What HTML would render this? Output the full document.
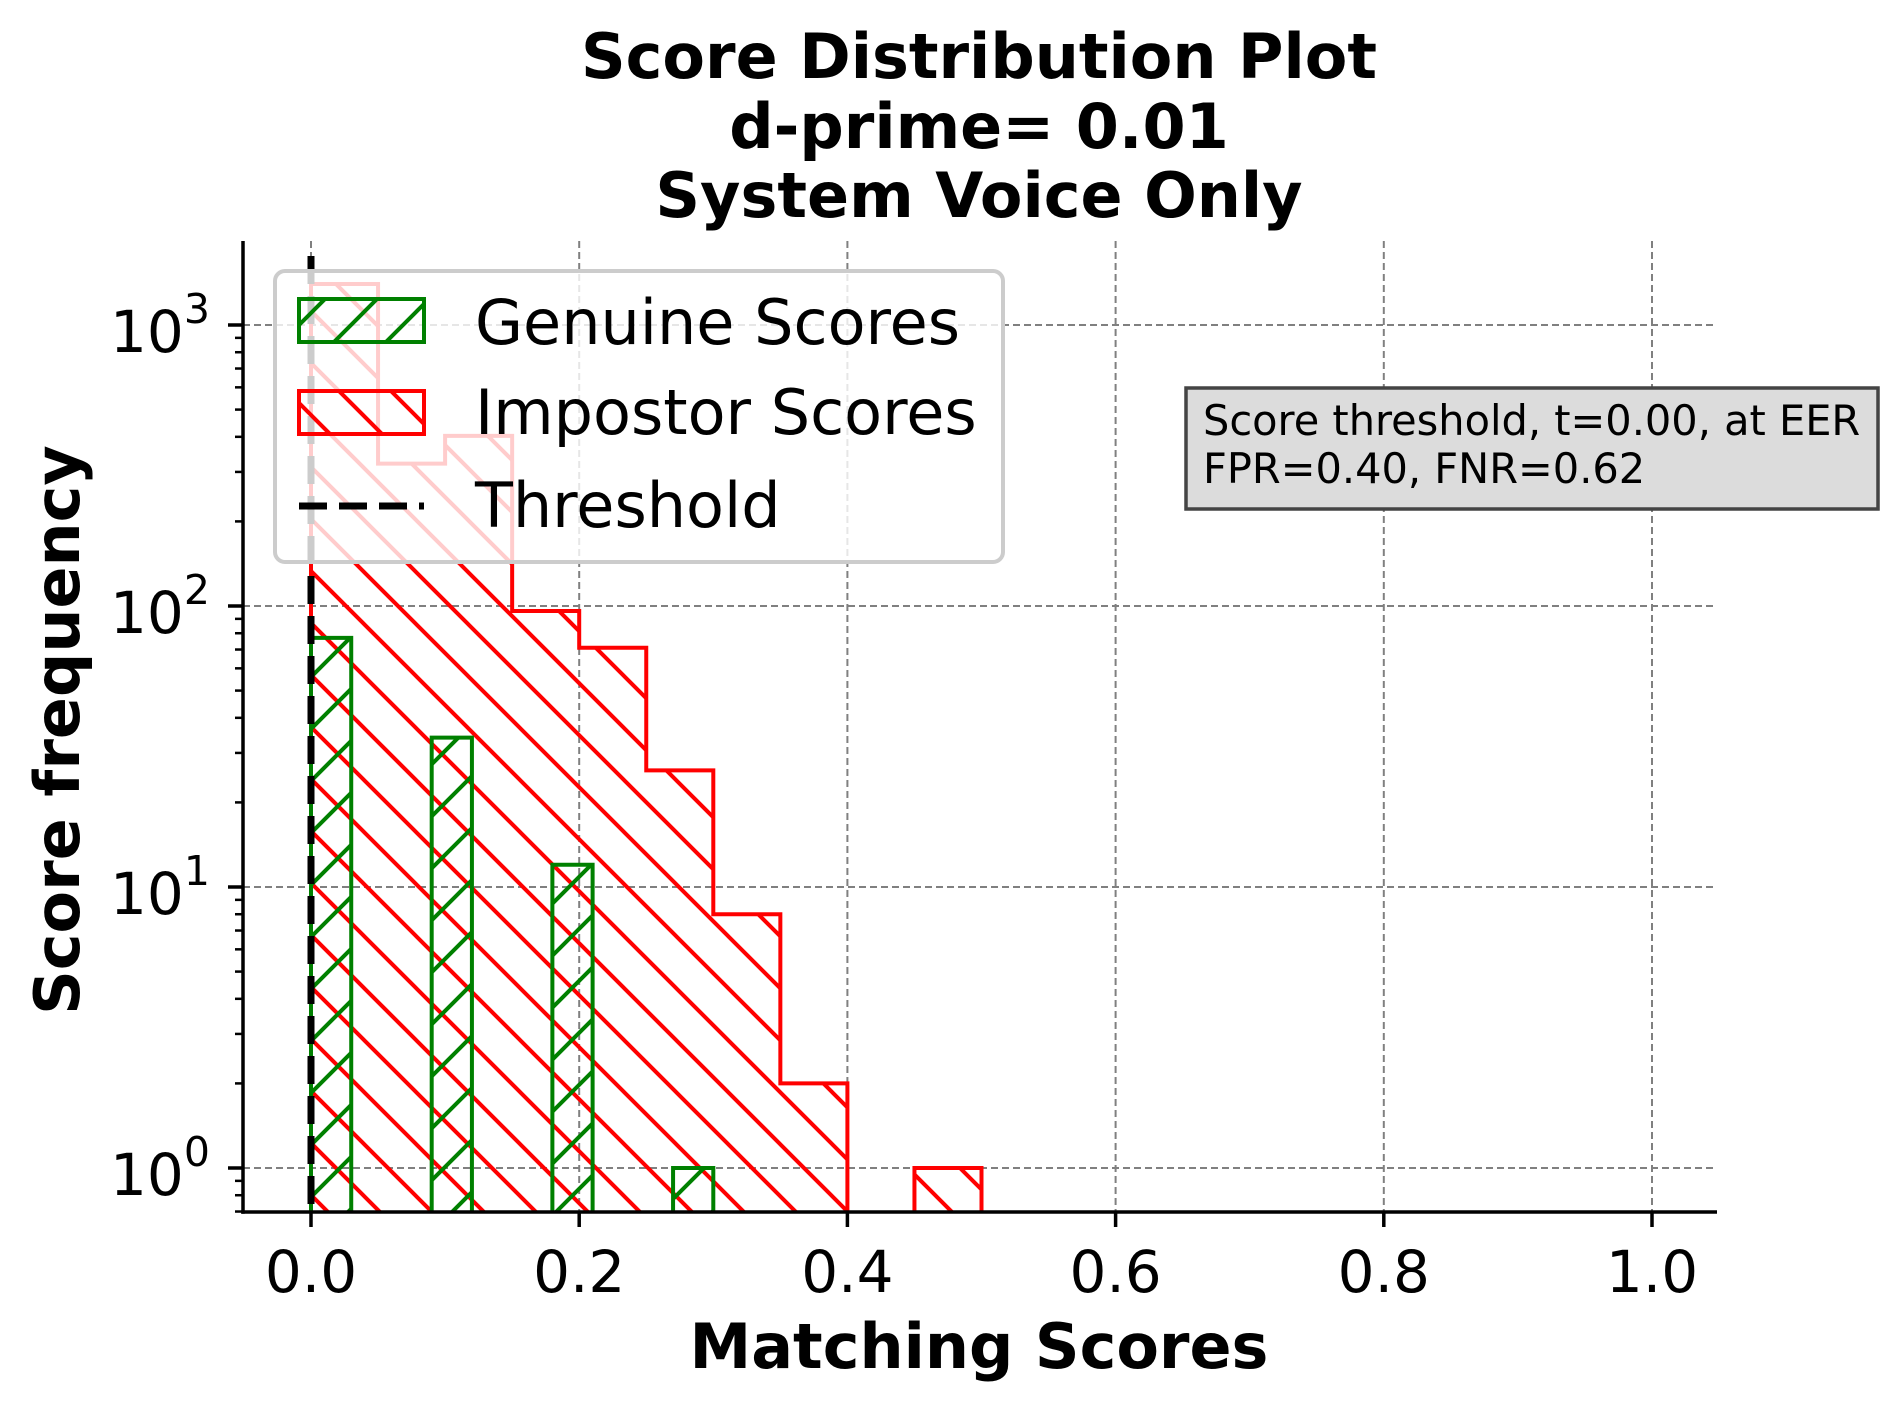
<!DOCTYPE html>
<html><head><meta charset="utf-8">
<style>
html,body{margin:0;padding:0;background:#fff;}
svg{display:block;font-family:"DejaVu Sans","Liberation Sans",sans-serif;}
</style></head>
<body>
<svg id="chart" width="1891" height="1408" viewBox="0 0 1891 1408" xmlns="http://www.w3.org/2000/svg">
<defs>
<pattern id="hatchRed" patternUnits="userSpaceOnUse" width="52" height="52">
<path d="M-5,-5 L57,57 M-5,47 L5,57 M47,-5 L57,5" stroke="#ff0000" stroke-width="4"/>
</pattern>
<pattern id="hatchGreen" patternUnits="userSpaceOnUse" width="52" height="52">
<path d="M-5,57 L57,-5 M-5,5 L5,-5 M47,57 L57,47" stroke="#008000" stroke-width="4"/>
</pattern>
<clipPath id="axClip"><rect x="243" y="241" width="1474" height="971"/></clipPath>
</defs>
<g font-weight="bold" font-size="62" text-anchor="middle">
<text x="979" y="78">Score Distribution Plot</text>
<text x="979" y="148">d-prime= 0.01</text>
<text x="979" y="217">System Voice Only</text>
</g>
<g id="grid"></g>
<g id="marks" clip-path="url(#axClip)"></g>
<g id="axes"></g>
<text x="979" y="1368" font-weight="bold" font-size="62" text-anchor="middle">Matching Scores</text>
<text x="0" y="0" font-weight="bold" font-size="62" text-anchor="middle" transform="translate(79,730) rotate(-90)">Score frequency</text>
<g>
<rect x="275" y="271" width="728" height="291" rx="10" fill="#ffffff" fill-opacity="0.8" stroke="#cccccc" stroke-width="4"/>
<g>
<rect x="299" y="299" width="125" height="43" fill="url(#hatchGreen)" stroke="#008000" stroke-width="4"/>
<text x="475" y="344" font-size="62">Genuine Scores</text>
</g>
<g>
<rect x="299" y="391" width="125" height="43" fill="url(#hatchRed)" stroke="#ff0000" stroke-width="4"/>
<text x="475" y="434" font-size="62">Impostor Scores</text>
</g>
<g>
<line x1="299" y1="506" x2="424" y2="506" stroke="#000" stroke-width="7" stroke-dasharray="28,12"/>
<text x="475" y="527" font-size="62">Threshold</text>
</g>
</g>
<g>
<rect x="1186" y="388" width="692" height="121" fill="#dcdcdc" stroke="#444444" stroke-width="3.5"/>
<text x="1203" y="435" font-size="41.5">Score threshold, t=0.00, at EER</text>
<text x="1203" y="483" font-size="41.5">FPR=0.40, FNR=0.62</text>
</g>
<script>
const impBinStart = 0, impBinWidth = 0.05;
const impostorCounts = [1400, 321, 403, 96, 71, 26, 8, 2, 0, 1, 0, 0, 0, 0, 0, 0, 0, 0, 0, 0];
const genBinStart = 0, genBinWidth = 0.03;
const genuineCounts = [77, 0, 0, 34, 0, 0, 12, 0, 0, 1];
const thresholdValue = 0.0;
const xTicks = [0, 0.2, 0.4, 0.6, 0.8, 1.0];
const xTickLabels = ["0.0", "0.2", "0.4", "0.6", "0.8", "1.0"];
const yDecades = [0, 1, 2, 3];

const NS = "http://www.w3.org/2000/svg";
const L = 243, R = 1717, T = 241, B = 1212;
const X0 = 311, XS = 1341;
const Y0 = 1168, DEC = 281;
function xs(v){ return X0 + v * XS; }
function ys(v){ return v > 0 ? Y0 - Math.log10(v) * DEC : B + 20; }
function mk(tag, attrs, parent){
  const e = document.createElementNS(NS, tag);
  for (const k in attrs) e.setAttribute(k, attrs[k]);
  parent.appendChild(e); return e;
}
const grid = document.getElementById('grid');
const marks = document.getElementById('marks');
const axes = document.getElementById('axes');

xTicks.forEach(t => {
  const g = mk('line', {x1: xs(t), x2: xs(t), y1: T, y2: B, stroke: '#808080', 'stroke-width': 2, 'stroke-dasharray': '7,4'}, grid);
  
  
});
yDecades.forEach(d => {
  const g = mk('line', {x1: L, x2: R, y1: ys(Math.pow(10, d)), y2: ys(Math.pow(10, d)), stroke: '#808080', 'stroke-width': 2, 'stroke-dasharray': '7,4'}, grid);
  
  
});

function stepPath(start, width, counts){
  let d = 'M' + xs(start) + ',' + (B + 20);
  counts.forEach((c, i) => {
    const x1 = xs(start + i * width), x2 = xs(start + (i + 1) * width), y = ys(c);
    d += ' L' + x1 + ',' + y + ' L' + x2 + ',' + y;
  });
  d += ' L' + xs(start + counts.length * width) + ',' + (B + 20) + ' Z';
  return d;
}
const imp = mk('path', {d: stepPath(impBinStart, impBinWidth, impostorCounts), fill: 'url(#hatchRed)', stroke: '#ff0000', 'stroke-width': 4, 'stroke-linejoin': 'miter'}, marks);


const gen = mk('path', {d: stepPath(genBinStart, genBinWidth, genuineCounts), fill: 'url(#hatchGreen)', stroke: '#008000', 'stroke-width': 4, 'stroke-linejoin': 'miter'}, marks);


const thr = mk('line', {x1: xs(thresholdValue), x2: xs(thresholdValue), y1: 256, y2: B, stroke: '#000', 'stroke-width': 7, 'stroke-dasharray': '28,12'}, marks);



const sp1 = mk('line', {x1: L, x2: L, y1: T, y2: B + 1.75, stroke: '#000', 'stroke-width': 3.5}, axes);


const sp2 = mk('line', {x1: L - 1.75, x2: R, y1: B, y2: B, stroke: '#000', 'stroke-width': 3.5}, axes);



xTicks.forEach((t, i) => {
  const tk = mk('line', {x1: xs(t), x2: xs(t), y1: B, y2: B + 15, stroke: '#000', 'stroke-width': 3.5}, axes);
  
  
  const lb = mk('text', {x: xs(t), y: B + 80, 'font-size': 58, 'text-anchor': 'middle'}, axes);
  lb.textContent = xTickLabels[i];
  
  
});
yDecades.forEach(d => {
  const y = ys(Math.pow(10, d));
  const tk = mk('line', {x1: L - 15, x2: L, y1: y, y2: y, stroke: '#000', 'stroke-width': 3.5}, axes);
  
  
  const lb = mk('text', {x: 110, y: y + 27, 'font-size': 58}, axes);
  lb.textContent = '10';
  
  
  const sup = mk('tspan', {dy: -29, 'font-size': 41}, lb);
  sup.textContent = String(d);
});
for (let d = -1; d <= 3; d++) {
  for (let m = 2; m <= 9; m++) {
    const y = ys(m * Math.pow(10, d));
    if (y < T || y > B) continue;
    const tk = mk('line', {x1: L - 8, x2: L, y1: y, y2: y, stroke: '#000', 'stroke-width': 2.5}, axes);
    
    
  }
}
</script>
</svg>
</body></html>
